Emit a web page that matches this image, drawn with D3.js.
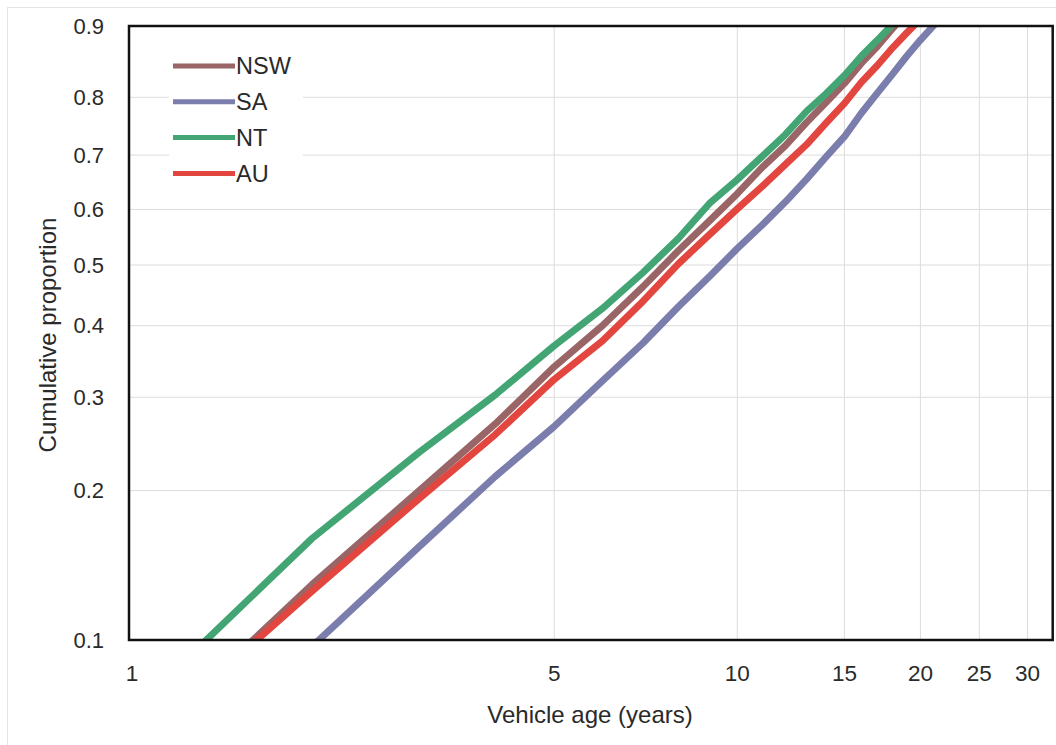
<!DOCTYPE html>
<html lang="en">
<head>
<meta charset="UTF-8">
<title>Vehicle age</title>
<script src="https://d3js.org/d3.v7.min.js"></script>
<style>
  body { margin: 0; background: #fff; }
  text { font-family: "Liberation Sans", Arial, sans-serif; fill: #2a2a2a; }
</style>
</head>
<body>
<div id="chart"></div>
<script>
// ages (years) at which the cumulative proportions were read
var ages = [1, 2, 3, 4, 5, 6, 7, 8, 9, 10, 11, 12, 13, 14, 15, 16, 17, 18, 19, 20, 21, 22];

var nsw = [0.057, 0.130, 0.200, 0.268, 0.340, 0.400, 0.463, 0.525, 0.579, 0.629, 0.678,
           0.717, 0.758, 0.792, 0.822, 0.852, 0.875, 0.897, 0.915];
var sa  = [0.043, 0.097, 0.155, 0.213, 0.265, 0.321, 0.374, 0.430, 0.480, 0.529, 0.572,
           0.614, 0.656, 0.697, 0.733, 0.774, 0.807, 0.836, 0.862, 0.883, 0.900, 0.915];
var nt  = [0.070, 0.161, 0.237, 0.303, 0.370, 0.427, 0.487, 0.547, 0.611, 0.655, 0.698,
           0.737, 0.777, 0.806, 0.834, 0.862, 0.883, 0.902, 0.918];
var au  = [0.058, 0.126, 0.193, 0.256, 0.323, 0.377, 0.439, 0.502, 0.554, 0.601, 0.643,
           0.683, 0.719, 0.757, 0.790, 0.824, 0.849, 0.873, 0.892, 0.908];

var seriesNames = ["NSW", "SA", "NT", "AU"];
var seriesColors = ["#9a6566", "#7b7dad", "#44a574", "#e2463f"];
var seriesValues = [nsw, sa, nt, au];

var xTicks = [1, 5, 10, 15, 20, 25, 30];
var yTicks = [0.1, 0.2, 0.3, 0.4, 0.5, 0.6, 0.7, 0.8, 0.9];

var W = 1056, H = 745;
var margin = {top: 26, right: 3.3, bottom: 105, left: 129};

var svg = d3.select("#chart").append("svg")
    .attr("width", W)
    .attr("height", H);

// faint outer frame
svg.append("rect")
    .attr("x", 7.5).attr("y", 7.5)
    .attr("width", W).attr("height", H)
    .attr("fill", "none")
    .attr("stroke", "#e3e3e3");

var x = d3.scaleLog()
    .domain([1, 33])
    .range([margin.left, W - margin.right]);

// Weibull probability scale: ln(-ln(1-p))
function weib(p) { return Math.log(-Math.log(1 - p)); }
var yw = d3.scaleLinear()
    .domain([weib(0.1), weib(0.9)])
    .range([H - margin.bottom, margin.top]);
function y(p) { return yw(weib(p)); }

var x0 = x.range()[0], x1 = x.range()[1];
var y0 = y(0.1), y1 = y(0.9);

// grid
svg.append("g").selectAll("line")
  .data(yTicks.slice(1, -1)).enter().append("line")
    .attr("x1", x0).attr("x2", x1)
    .attr("y1", function(d) { return y(d); })
    .attr("y2", function(d) { return y(d); })
    .attr("stroke", "#dcdcdc").attr("stroke-width", 1);

svg.append("g").selectAll("line")
  .data(xTicks.slice(1)).enter().append("line")
    .attr("x1", function(d) { return x(d); })
    .attr("x2", function(d) { return x(d); })
    .attr("y1", y1).attr("y2", y0)
    .attr("stroke", "#dcdcdc").attr("stroke-width", 1);

// legend background hides the grid behind it
svg.append("rect")
    .attr("x", 169).attr("y", 30)
    .attr("width", 134).attr("height", 165)
    .attr("fill", "#fff");

// clip for the lines
svg.append("defs").append("clipPath")
    .attr("id", "plotClip")
  .append("rect")
    .attr("x", x0).attr("y", y1)
    .attr("width", x1 - x0).attr("height", y0 - y1);

var line = d3.line()
    .x(function(d) { return x(d[0]); })
    .y(function(d) { return y(d[1]); });

svg.append("g")
    .attr("clip-path", "url(#plotClip)")
  .selectAll("path")
  .data(seriesValues).enter().append("path")
    .attr("d", function(vals) {
      return line(vals.map(function(v, i) { return [ages[i], v]; }));
    })
    .attr("fill", "none")
    .attr("stroke", function(d, i) { return seriesColors[i]; })
    .attr("stroke-width", 7)
    .attr("stroke-linejoin", "round");

// plot border
svg.append("rect")
    .attr("x", x0).attr("y", y1)
    .attr("width", x1 - x0).attr("height", y0 - y1)
    .attr("fill", "none")
    .attr("stroke", "#111")
    .attr("stroke-width", 2.5);

// tick labels
svg.append("g").selectAll("text")
  .data(yTicks).enter().append("text")
    .attr("x", 104)
    .attr("y", function(d) { return y(d); })
    .attr("dy", "0.35em")
    .attr("text-anchor", "end")
    .style("font-size", "22px")
    .text(function(d) { return d3.format(".1f")(d); });

svg.append("g").selectAll("text")
  .data(xTicks).enter().append("text")
    .attr("x", function(d) { return x(d) + (d === 1 ? 3 : 0); })
    .attr("y", 681)
    .attr("text-anchor", "middle")
    .style("font-size", "22.5px")
    .text(function(d) { return d; });

// axis titles
svg.append("text")
    .attr("x", 590)
    .attr("y", 723)
    .attr("text-anchor", "middle")
    .style("font-size", "24px")
    .text("Vehicle age (years)");

svg.append("text")
    .attr("transform", "translate(56,335) rotate(-90)")
    .attr("text-anchor", "middle")
    .style("font-size", "24px")
    .text("Cumulative proportion");

// legend
var legend = svg.append("g").selectAll("g")
  .data(seriesNames).enter().append("g")
    .attr("transform", function(d, i) { return "translate(173," + (66 + i * 35.8) + ")"; });

legend.append("line")
    .attr("x1", 0).attr("x2", 62)
    .attr("stroke", function(d, i) { return seriesColors[i]; })
    .attr("stroke-width", 5);

legend.append("text")
    .attr("x", 63)
    .attr("dy", "0.36em")
    .style("font-size", "23.5px")
    .text(function(d) { return d; });
</script>
</body>
</html>
